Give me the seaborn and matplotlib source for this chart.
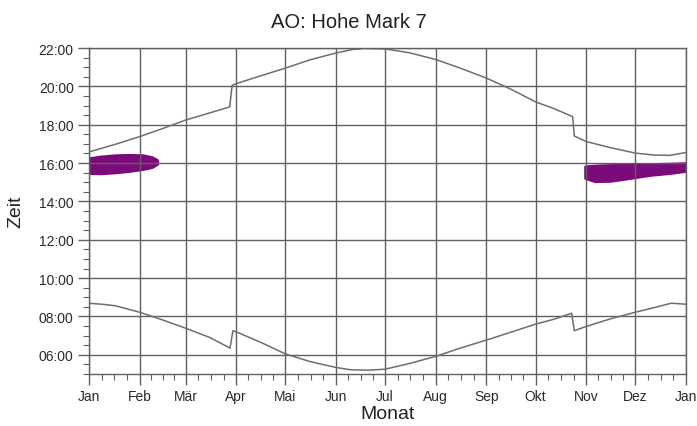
import matplotlib.pyplot as plt
import matplotlib.ticker as ticker
import pandas as pd
import seaborn as sns

# month starts (day of year) and labels
month_starts = [0, 31, 59, 90, 120, 151, 181, 212, 243, 273, 304, 334, 365]
month_labels = ["Jan", "Feb", "Mär", "Apr", "Mai", "Jun", "Jul",
                "Aug", "Sep", "Okt", "Nov", "Dez", "Jan"]

# evening curve (hours)
evening_days = [0, 15, 31, 45, 59, 74, 86, 87.5, 90, 105, 120, 135, 151,
                161, 168, 181, 196, 212, 227, 243, 258, 273, 284,
                295.7, 296.7, 304, 319, 334, 345, 355, 365]
evening_hours = [16.58, 16.95, 17.38, 17.80, 18.24, 18.62, 18.93, 20.05, 20.14,
                 20.55, 20.95, 21.38, 21.74, 21.92, 21.98, 21.95, 21.75, 21.40,
                 20.95, 20.43, 19.85, 19.19, 18.85, 18.42, 17.41, 17.12, 16.80,
                 16.52, 16.42, 16.40, 16.55]

# morning curve (hours)
morning_days = [0, 9, 16, 31, 45, 59, 74, 86.2, 88, 90, 105, 120, 135, 151,
                160, 171, 181, 196, 212, 227, 243, 258, 273, 284,
                295.1, 296.7, 304, 319, 334, 345, 356, 365]
morning_hours = [8.69, 8.63, 8.56, 8.22, 7.82, 7.39, 6.90, 6.35, 7.26, 7.20,
                 6.65, 6.05, 5.65, 5.34, 5.22, 5.20, 5.25, 5.55, 5.92, 6.35,
                 6.77, 7.18, 7.60, 7.85, 8.17, 7.26, 7.48, 7.88, 8.22, 8.45,
                 8.69, 8.64]

# purple bands
band1_days = [0.6, 6.7, 16, 25, 33, 38.5, 41.6]
band1_top = [16.26, 16.34, 16.41, 16.43, 16.41, 16.31, 16.16]
band1_bottom = [15.48, 15.46, 15.51, 15.59, 15.69, 15.79, 15.95]

band2_days = [303.3, 309.4, 318.5, 330.8, 343, 355.2, 365]
band2_top = [15.83, 15.87, 15.90, 15.92, 15.95, 15.97, 16.0]
band2_bottom = [15.22, 15.05, 15.07, 15.22, 15.38, 15.48, 15.59]

sns.set_style("ticks")
plt.rcParams["font.family"] = ["Liberation Sans", "DejaVu Sans"]

evening = pd.DataFrame({"day": evening_days, "hour": evening_hours})
morning = pd.DataFrame({"day": morning_days, "hour": morning_hours})

fig = plt.figure(figsize=(6.97, 4.27), dpi=100)
ax = fig.add_axes([89 / 697, 1 - 375 / 427, (686 - 89) / 697, (375 - 49) / 427])

purple = "#7b0b7b"
ax.fill_between(band1_days, band1_bottom, band1_top, color=purple, lw=2,
                edgecolor=purple, zorder=1)
ax.fill_between(band2_days, band2_bottom, band2_top, color=purple, lw=2,
                edgecolor=purple, zorder=1)

kwargs = dict(color="#6e6e6e", linewidth=1.1, estimator=None, sort=False)
sns.lineplot(data=evening, x="day", y="hour", ax=ax, **kwargs)
sns.lineplot(data=morning, x="day", y="hour", ax=ax, **kwargs)

ax.set_xlim(0, 365)
ax.set_ylim(5, 22)

ax.set_xticks(month_starts)
ax.set_xticklabels(month_labels)
minor_x = []
for a, b in zip(month_starts[:-1], month_starts[1:]):
    minor_x += [a + (b - a) * k / 4 for k in (1, 2, 3)]
ax.set_xticks(minor_x, minor=True)

ax.set_yticks(range(6, 23, 2))
ax.yaxis.set_major_formatter(ticker.FuncFormatter(lambda v, p: f"{int(v):02d}:00"))
ax.yaxis.set_minor_locator(ticker.MultipleLocator(0.5))

ax.set_axisbelow("line")
ax.grid(True, which="major", color="#606060", linewidth=1.0)

for side in ["left", "bottom", "top", "right"]:
    ax.spines[side].set_color("#606060")
    ax.spines[side].set_linewidth(1.0)

ax.tick_params(which="major", length=8, width=1, color="#606060",
               labelsize=10, labelcolor="#2a2a2a", pad=3)
ax.tick_params(which="minor", length=4, width=0.8, color="#606060")

# title is centred on the figure, not on the axes
fig.text(0.5, 1 - 22 / 427, "AO: Hohe Mark 7", fontsize=14.5, color="#222222",
         ha="center", va="center")
ax.set_xlabel("Monat", fontsize=14, color="#222222", labelpad=1)
ax.set_ylabel("Zeit", fontsize=14, color="#222222", labelpad=10)

fig.savefig("out.png", dpi=100)
